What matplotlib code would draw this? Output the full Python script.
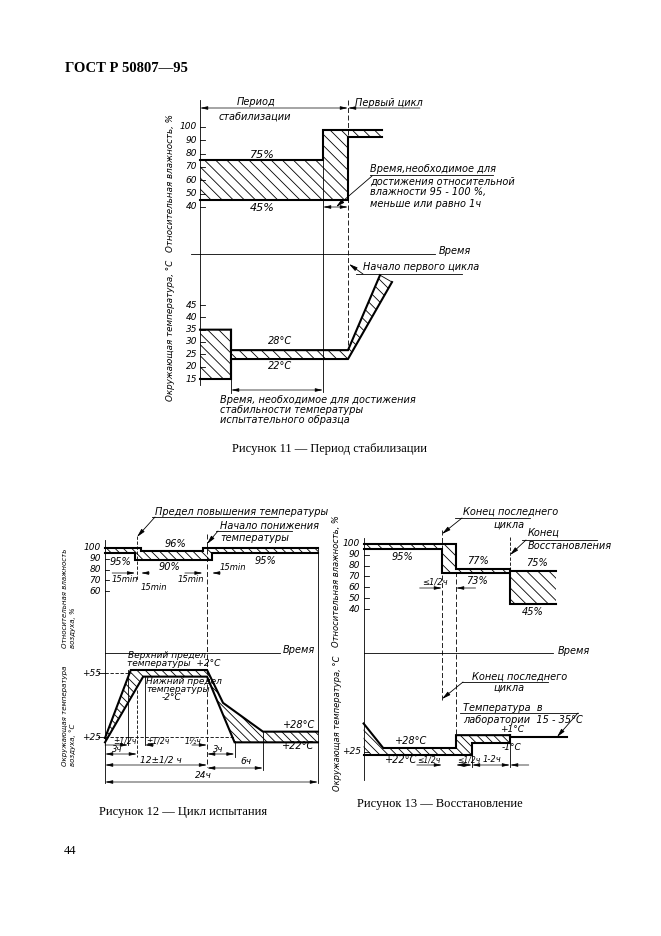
import matplotlib
matplotlib.use("Agg")
import matplotlib.pyplot as plt
from matplotlib import font_manager
from matplotlib.transforms import blended_transform_factory

W, H = 661, 936

_names = {f.name for f in font_manager.fontManager.ttflist}
DRAW_FONT = "Liberation Sans Narrow" if "Liberation Sans Narrow" in _names else "DejaVu Sans"
SERIF = "Liberation Serif" if "Liberation Serif" in _names else "DejaVu Serif"

plt.rcParams["hatch.linewidth"] = 0.6

THICK = 1.5
THIN = 0.6
HATCH = "\\\\\\"
HATCH_FINE = "\\\\\\\\"

# ---------------- Рисунок 11: период стабилизации ----------------
F11_RH_TICKS = [40, 50, 60, 70, 80, 90, 100]
F11_T_TICKS = [15, 20, 25, 30, 35, 40, 45]
# humidity band, time in arbitrary units (start of stabilisation = 0)
F11_RH_UP_T = [0, 12.3, 12.3, 18.2]
F11_RH_UP = [75, 75, 97.5, 97.5]
F11_RH_LO_T = [0, 14.8, 14.8, 18.2]
F11_RH_LO = [45, 45, 92.5, 92.5]
# temperature band
F11_T_UP_T = [0, 3.1, 3.1, 14.8, 18.0]
F11_T_UP = [35, 35, 26.7, 26.7, 57.1]
F11_T_LO_T = [0, 3.1, 3.1, 14.8, 19.2]
F11_T_LO = [15, 15, 23.1, 23.1, 54.3]
F11_TSTEP, F11_RHSTEP, F11_CYCLE = 3.1, 12.3, 14.8

# ---------------- Рисунок 12: цикл испытания (time in hours) ----------------
F12_RH_TICKS = [60, 70, 80, 90, 100]
F12_T_TICKS = [25, 55]
F12_RH_UP_T = [0, 4.05, 4.05, 11.0, 11.0, 24]
F12_RH_UP = [100, 100, 97, 97, 100, 100]
F12_RH_LO_T = [0, 3.4, 3.4, 12.05, 12.05, 24]
F12_RH_LO = [95, 95, 88.5, 88.5, 95, 95]
F12_T_UP_T = [0, 2.9, 11.5, 13.3, 17.8, 24]
F12_T_UP = [24.5, 56.4, 56.4, 41, 27.5, 27.5]
F12_T_LO_T = [0, 4.3, 11.5, 14.6, 24]
F12_T_LO = [22.5, 53.3, 53.3, 22.5, 22.5]
F12_RISE_END, F12_FALL_START, F12_FALL_END, F12_SIX, F12_END = 3.6, 11.5, 14.6, 17.8, 24

# ---------------- Рисунок 13: восстановление (hours from end of last cycle) ----------------
F13_RH_TICKS = [40, 50, 60, 70, 80, 90, 100]
F13_RH_UP_T = [-2.8, 0.5, 0.5, 2.43, 2.43, 4.07]
F13_RH_UP = [100, 100, 77, 77, 75, 75]
F13_RH_LO_T = [-2.8, 0, 0, 2.43, 2.43, 4.07]
F13_RH_LO = [95, 95, 73, 73, 45, 45]
F13_T_UP_T = [-2.8, -2.1, 0.5, 0.5, 2.43]
F13_T_UP = [49, 28, 28, 39, 39]
F13_T_LO_T = [-2.8, 1.07, 1.07, 2.43]
F13_T_LO = [22, 22, 32.3, 32.3]
F13_LAB_T = [2.43, 4.46]
F13_LAB = [37.4, 37.4]
F13_END, F13_HALF, F13_REC = 0, 0.5, 2.43

fig = plt.figure(figsize=(W / 100, H / 100), dpi=100)
fig.patch.set_facecolor("white")

overlay = fig.add_axes([0, 0, 1, 1])
overlay.set_xlim(0, W)
overlay.set_ylim(H, 0)
overlay.axis("off")


def fy(py):
    return 1 - py / H


def panel(x_cal, y_cal):
    # full-figure invisible axes whose data scale matches the drawing
    (px1, v1), (px2, v2) = x_cal
    sx = (v2 - v1) / (px2 - px1)
    (py1, w1), (py2, w2) = y_cal
    sy = (w2 - w1) / (py2 - py1)
    ax = fig.add_axes([0, 0, 1, 1])
    ax.set_xlim(v1 - px1 * sx, v1 + (W - px1) * sx)
    ax.set_ylim(w1 + (H - py1) * sy, w1 - py1 * sy)
    ax.axis("off")
    ax.patch.set_alpha(0)
    return ax


def blend(ax):
    return blended_transform_factory(ax.transData, fig.transFigure)


def vline(ax, x, py0, py1, **kw):
    kw.setdefault("lw", THIN)
    ax.plot([x, x], [fy(py0), fy(py1)], color="k", transform=blend(ax), **kw)


def hline(ax, x0, x1, py, **kw):
    kw.setdefault("lw", THIN)
    ax.plot([x0, x1], [fy(py), fy(py)], color="k", transform=blend(ax), **kw)


def dim(ax, x0, x1, py, style="<|-|>"):
    ax.annotate("", xy=(x1, fy(py)), xytext=(x0, fy(py)),
                xycoords=blend(ax), textcoords=blend(ax),
                arrowprops=dict(arrowstyle=style + ",head_length=0.45,head_width=0.1",
                                lw=0.5, color="k", shrinkA=0, shrinkB=0))


def leader(p_from, p_to):
    overlay.annotate("", xy=p_to, xytext=p_from,
                     arrowprops=dict(arrowstyle="-|>,head_length=0.5,head_width=0.12",
                                     lw=0.6, color="k", shrinkA=0, shrinkB=0))


def uline(x0, x1, py):
    overlay.plot([x0, x1], [py, py], color="k", lw=THIN)


def txt(x, y, s, size=7, ha="left", va="center", rot=0):
    fig.text(x / W, fy(y), s, fontsize=size, ha=ha, va=va, rotation=rot,
             family=DRAW_FONT, style="italic")


def band(ax, up_t, up, lo_t, lo, hatch):
    xs = list(up_t) + list(lo_t)[::-1]
    ys = list(up) + list(lo)[::-1]
    ax.fill(xs, ys, facecolor="none", edgecolor="k", hatch=hatch, lw=0)
    ax.plot(up_t, up, color="k", lw=THICK, solid_joinstyle="miter")
    ax.plot(lo_t, lo, color="k", lw=THICK, solid_joinstyle="miter")


def ticks(ax, values, x0, length, label_px, labels=None, size=6.5):
    for i, v in enumerate(values):
        ax.plot([x0, x0 + length], [v, v], color="k", lw=THIN)
        lab = labels[i] if labels else str(v)
        y_px = ax.transData.transform((0, v))[1]
        fig.text(label_px / W, y_px / fig.bbox.height, lab, fontsize=size, ha="right",
                 va="center", family=DRAW_FONT, style="italic")


# ======================= Рисунок 11 =======================
a11h = panel(((200, 0), (348, 14.8)), ((127, 100), (207, 40)))
a11t = panel(((200, 0), (348, 14.8)), ((379, 15), (305, 45)))

band(a11h, F11_RH_UP_T, F11_RH_UP, F11_RH_LO_T, F11_RH_LO, HATCH)
band(a11t, F11_T_UP_T, F11_T_UP, F11_T_LO_T, F11_T_LO, HATCH)
a11t.plot([F11_TSTEP, F11_TSTEP], [F11_T_UP[1], F11_T_LO[1]], color="k", lw=THICK)
a11t.plot([F11_T_UP_T[-1], F11_T_LO_T[-1]], [F11_T_UP[-1], F11_T_LO[-1]], color="k", lw=THIN)

vline(a11h, 0, 100, 385)
vline(a11h, F11_RHSTEP, 130, 392)
vline(a11h, F11_CYCLE, 100, 350, ls=(0, (6, 3)))
vline(a11t, F11_TSTEP, 378, 393)
hline(a11t, -0.9, 23.5, 254)
dim(a11h, 0, F11_CYCLE, 108)
dim(a11h, 22.0, F11_CYCLE, 108, style="-|>")
dim(a11h, F11_RHSTEP, F11_CYCLE, 207)
dim(a11t, F11_TSTEP, F11_RHSTEP, 390)
ticks(a11h, F11_RH_TICKS, 0, 0.5, 197)
ticks(a11t, F11_T_TICKS, 0, 0.5, 197)

txt(256, 102, "Период", ha="center")
txt(255, 117, "стабилизации", ha="center")
txt(389, 103, "Первый цикл", ha="center")
txt(262, 155, "75%", size=8, ha="center")
txt(262, 208, "45%", size=8, ha="center")
txt(370, 169, "Время,необходимое для")
uline(370, 493, 175)
txt(370, 182, "достижения относительной")
txt(370, 192, "влажности 95 - 100 %,")
txt(370, 204, "меньше или равно 1ч")
leader((372, 176), (336, 207))
txt(439, 251, "Время")
txt(363, 267, "Начало первого цикла")
uline(356, 462, 274)
leader((363, 274), (349, 264))
txt(280, 341, "28°С", ha="center")
txt(280, 366, "22°С", ha="center")
txt(220, 400, "Время, необходимое для достижения")
txt(220, 410, "стабильности температуры")
txt(220, 420, "испытательного образца")
txt(171, 183, "Относительная влажность, %", size=6.3, rot=90, ha="center")
txt(171, 330, "Окружающая температура, °С", size=6.3, rot=90, ha="center")

# ======================= Рисунок 12 =======================
a12h = panel(((105, 0), (318, 24)), ((548, 100), (591, 60)))
a12t = panel(((105, 0), (318, 24)), ((673, 55), (737, 25)))

band(a12h, F12_RH_UP_T, F12_RH_UP, F12_RH_LO_T, F12_RH_LO, HATCH_FINE)
band(a12t, F12_T_UP_T, F12_T_UP, F12_T_LO_T, F12_T_LO, HATCH_FINE)

vline(a12h, 0, 540, 783)
vline(a12h, F12_END, 548, 783)
vline(a12h, F12_FALL_START, 534, 767, ls=(0, (6, 3)))
vline(a12h, F12_RISE_END, 536, 580, ls=(0, (4, 2)))
vline(a12t, F12_RISE_END, 690, 757, ls=(0, (4, 2)))
vline(a12t, 2.6, 670, 745)
vline(a12t, 4.5, 676, 745)
vline(a12t, F12_FALL_END, 741, 757)
vline(a12t, F12_SIX, 732, 770)
hline(a12t, 0, 19.7, 653)
a12t.plot([0, 2.9], [55, 55], color="k", lw=THIN, ls=(0, (4, 2)))
a12t.plot([0, F12_FALL_END], [25, 25], color="k", lw=THIN, ls=(0, (4, 2)))
ticks(a12h, F12_RH_TICKS, 0, 0.5, 101)
ticks(a12t, F12_T_TICKS, -0.8, 0.8, 101, labels=["+25", "+55"])

dim(a12t, 0, F12_RISE_END, 754)
dim(a12t, F12_FALL_START, F12_FALL_END, 754)
dim(a12t, 0, F12_FALL_START, 765)
dim(a12t, F12_FALL_START, F12_SIX, 768)
dim(a12t, 0, F12_END, 782)
dim(a12t, 0, 2.6, 745, style="-|>")
dim(a12t, 4.5, 5.5, 745, style="<|-")
dim(a12t, 9.8, F12_FALL_START, 745, style="-|>")
dim(a12h, 0.8, 3.4, 573, style="-|>")
dim(a12h, 4.05, 5.0, 573, style="<|-")
dim(a12h, 9.0, 11.0, 573, style="-|>")
dim(a12h, 12.05, 13.0, 573, style="<|-")

txt(155, 512, "Предел повышения температуры")
uline(152, 278, 517)
leader((155, 517), (137, 537))
txt(220, 526, "Начало понижения")
uline(216, 292, 531)
txt(220, 538, "температуры")
leader((218, 531), (207, 544))
txt(175, 544, "96%", ha="center")
txt(169, 567, "90%", ha="center")
txt(120, 562, "95%", ha="center")
txt(265, 561, "95%", ha="center")
txt(112, 580, "15min", size=6)
txt(141, 588, "15min", size=6)
txt(178, 579, "15min", size=6)
txt(220, 568, "15min", size=6)
txt(283, 650, "Время")
txt(128, 656, "Верхний предел", size=6.5)
txt(127, 664, "температуры  +2°С", size=6.5)
txt(146, 681, "Нижний предел", size=6.5)
txt(146, 690, "температуры", size=6.5)
txt(162, 698, "-2°С", size=6.5)
txt(283, 725, "+28°С")
txt(282, 746, "+22°С")
txt(113, 741, "±1/2ч", size=5.5)
txt(146, 741, "±1/2ч", size=5.5)
txt(185, 741, "1½ч", size=5.5)
txt(112, 750, "3ч", size=6)
txt(213, 750, "3ч", size=6)
txt(140, 760, "12±1/2 ч", size=6.5)
txt(240, 762, "6ч", size=6.5)
txt(195, 776, "24ч", size=6.5)
txt(65, 648, "Относительная влажность", size=5, rot=90, ha="center", va="bottom")
txt(73, 648, "воздуха, %", size=5, rot=90, ha="center", va="bottom")
txt(65, 766, "Окружающая температура", size=5, rot=90, ha="center", va="bottom")
txt(73, 766, "воздуха, °С", size=5, rot=90, ha="center", va="bottom")

# ======================= Рисунок 13 =======================
a13h = panel(((442, 0), (456, 0.5)), ((544, 100), (609, 40)))
a13t = panel(((442, 0), (456, 0.5)), ((748, 28), (755, 22)))

band(a13h, F13_RH_UP_T, F13_RH_UP, F13_RH_LO_T, F13_RH_LO, HATCH)
band(a13t, F13_T_UP_T, F13_T_UP, F13_T_LO_T, F13_T_LO, HATCH_FINE)
a13t.plot(F13_LAB_T, F13_LAB, color="k", lw=THICK)
a13t.plot([F13_REC, F13_REC], [F13_T_UP[-1], F13_T_LO[-1]], color="k", lw=THICK)

vline(a13h, -2.8, 538, 780)
vline(a13h, F13_END, 530, 700, ls=(0, (6, 3)))
vline(a13h, F13_HALF, 549, 735, ls=(0, (6, 3)))
vline(a13h, F13_REC, 537, 570, ls=(0, (4, 2)))
vline(a13t, F13_T_LO_T[1], 755, 767)
vline(a13t, F13_REC, 743, 767)
hline(a13t, -2.8, 3.96, 653)
ticks(a13h, F13_RH_TICKS, -2.8, 0.18, 360)
ticks(a13t, [25], -2.8, 0.18, 361, labels=["+25"])

dim(a13h, -0.8, F13_END, 588, style="-|>")
dim(a13h, 1.2, F13_HALF, 588, style="-|>")
dim(a13t, -0.9, F13_END, 765, style="-|>")
dim(a13t, F13_HALF, F13_T_LO_T[1], 765, style="<|-|>")
dim(a13t, F13_T_LO_T[1], F13_REC, 765, style="<|-|>")
dim(a13t, 3.1, F13_REC, 765, style="-|>")

txt(463, 512, "Конец последнего")
uline(455, 530, 518)
txt(493, 525, "цикла")
leader((462, 518), (442, 534))
txt(528, 533, "Конец")
uline(522, 597, 540)
txt(528, 546, "Восстановления")
leader((526, 540), (510, 555))
txt(402, 557, "95%", ha="center")
txt(478, 561, "77%", ha="center")
txt(477, 581, "73%", ha="center")
txt(537, 563, "75%", ha="center")
txt(533, 612, "45%", ha="center")
txt(422, 582, "≤1/2ч", size=6)
txt(558, 651, "Время")
txt(472, 677, "Конец последнего")
uline(462, 548, 682)
txt(493, 688, "цикла")
leader((463, 682), (442, 699))
txt(463, 708, "Температура  в")
uline(460, 578, 713)
txt(463, 720, "лаборатории  15 - 35°С")
leader((578, 713), (557, 737))
txt(500, 729, "+1°С", size=6.5)
txt(502, 748, "-1°С", size=6.5)
txt(395, 741, "+28°С")
txt(385, 760, "+22°С")
txt(417, 760, "≤1/2ч", size=5.5)
txt(457, 760, "≤1/2ч", size=5.5)
txt(483, 760, "1-2ч", size=6)
txt(337, 581, "Относительная влажность, %", size=6, rot=90, ha="center")
txt(337, 723, "Окружающая температура, °С", size=6, rot=90, ha="center")

# ======================= page text =======================
fig.text(65 / W, fy(69), "ГОСТ Р 50807—95", fontsize=10.5, weight="bold", family=SERIF,
         ha="left", va="center")
fig.text(330 / W, fy(449), "Рисунок 11 — Период стабилизации", fontsize=9, family=SERIF,
         ha="center", va="center")
fig.text(183 / W, fy(812), "Рисунок 12 — Цикл испытания", fontsize=9, family=SERIF,
         ha="center", va="center")
fig.text(440 / W, fy(804), "Рисунок 13 — Восстановление", fontsize=9, family=SERIF,
         ha="center", va="center")
fig.text(64 / W, fy(851), "44", fontsize=9, family=SERIF, ha="left", va="center")

fig.savefig("out.png", dpi=100)
